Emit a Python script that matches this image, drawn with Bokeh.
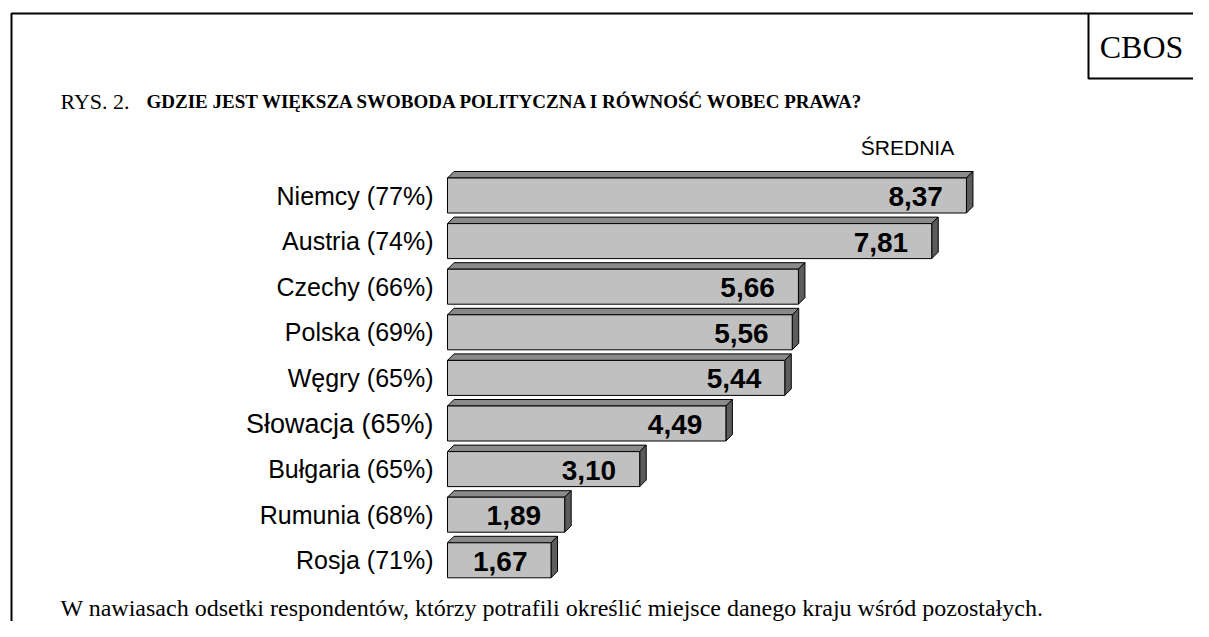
from bokeh.plotting import figure
from bokeh.models import Range1d
from bokeh.core.properties import value
from bokeh.embed import file_html
from bokeh.resources import INLINE

countries = ["Niemcy", "Austria", "Czechy", "Polska", "Węgry", "Słowacja", "Bułgaria", "Rumunia", "Rosja"]
percents = [77, 74, 66, 69, 65, 65, 65, 68, 71]
means = [8.37, 7.81, 5.66, 5.56, 5.44, 4.49, 3.10, 1.89, 1.67]
label_font_sizes = ["25px", "25px", "25px", "25px", "25px", "27px", "25px", "25px", "25px"]
title_prefix = "RYS. 2."
title_main = "GDZIE JEST WIĘKSZA SWOBODA POLITYCZNA I RÓWNOŚĆ WOBEC PRAWA?"
col_header = "ŚREDNIA"
footnote = "W nawiasach odsetki respondentów, którzy potrafili określić miejsce danego kraju wśród pozostałych."
brand = "CBOS"

W, H = 1193, 621
X0, SX = 447.0, 62.0      # pixel of value 0, pixels per unit
Y0, SY = 195.0, 45.6      # pixel of first row centre, pixels per row


def px(x):
    return (x - X0) / SX


def py(y):
    return (y - Y0) / SY


p = figure(width=W, height=H, output_backend="svg", toolbar_location=None,
           x_range=Range1d(px(0), px(W)), y_range=Range1d(py(H), py(0)),
           x_axis_type=None, y_axis_type=None, min_border=0,
           outline_line_color=None, background_fill_color="white")
p.grid.visible = False

rows = list(range(len(countries)))
half = 17.5 / SY
dx = 6.5 / SX
dy = 6.5 / SY

top_xs, top_ys, side_xs, side_ys = [], [], [], []
for i, v in zip(rows, means):
    t = i - half
    b = i + half
    top_xs.append([0, v, v + dx, dx])
    top_ys.append([t, t, t - dy, t - dy])
    side_xs.append([v, v + dx, v + dx, v])
    side_ys.append([t, t - dy, b - dy, b])

p.patches(top_xs, top_ys, fill_color="#8a8a8a", line_color="black", line_width=1)
p.patches(side_xs, side_ys, fill_color="#5c5c5c", line_color="black", line_width=1)
p.quad(left=[0] * len(means), right=means, top=[i - half for i in rows],
       bottom=[i + half for i in rows], fill_color="#c0c0c0", line_color="black", line_width=1)

labels = [f"{c} ({pc}%)" for c, pc in zip(countries, percents)]
p.text(x=[px(433)] * len(rows), y=rows, text=labels, text_align="right", text_baseline="middle",
       text_font=value("Liberation Sans"), text_font_size=label_font_sizes, text_color="black")

vals = [f"{v:.2f}".replace(".", ",") for v in means]
p.text(x=[v - 0.38 for v in means], y=[i + 0.02 for i in rows], text=vals, text_align="right",
       text_baseline="middle", text_font=value("Liberation Sans"), text_font_style="bold",
       text_font_size="28px", text_color="black")

p.text(x=[px(907)], y=[py(147)], text=[col_header], text_align="center", text_baseline="middle",
       text_font=value("Liberation Sans"), text_font_size="21px", text_color="black")

# title
p.text(x=[px(60)], y=[py(101)], text=[title_prefix], text_align="left", text_baseline="middle",
       text_font=value("Liberation Serif"), text_font_size="22px", text_color="black")
p.text(x=[px(146)], y=[py(101)], text=[title_main], text_align="left", text_baseline="middle",
       text_font=value("Liberation Serif"), text_font_style="bold", text_font_size="19px",
       text_color="black")

# footnote
p.text(x=[px(60)], y=[py(607)], text=[footnote], text_align="left", text_baseline="middle",
       text_font=value("Liberation Serif"), text_font_size="24px", text_color="black")

# frame
p.line([px(11), px(11), px(W + 20)], [py(H + 20), py(13), py(13)], line_color="black", line_width=2)
p.line([px(1088), px(1088), px(W + 20)], [py(13), py(78), py(78)], line_color="black", line_width=2)
p.text(x=[px(1141)], y=[py(46)], text=[brand], text_align="center", text_baseline="middle",
       text_font=value("Liberation Serif"), text_font_size="32px", text_color="black")

open("out.html", "w").write(file_html(p, INLINE))
